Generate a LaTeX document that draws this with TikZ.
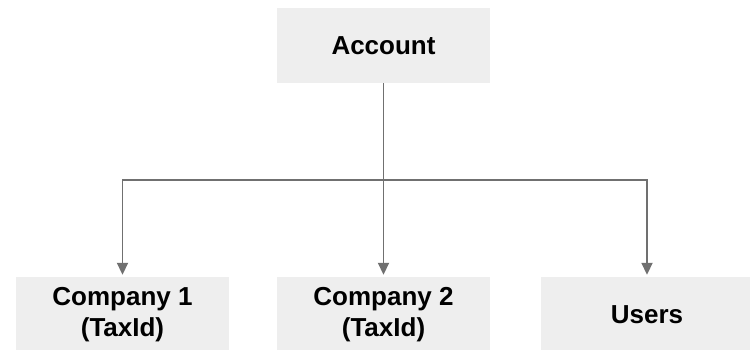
\documentclass[tikz,border=0pt]{standalone}
\usepackage{fontspec}
\setmainfont{Liberation Sans}
\usetikzlibrary{arrows.meta}
\definecolor{boxfill}{RGB}{238,238,238}
\definecolor{linegray}{RGB}{112,112,112}
\begin{document}
\begin{tikzpicture}[x=1pt,y=1pt,
  box/.style={fill=boxfill, draw=none, minimum width=213pt, minimum height=75pt, inner sep=0pt,
    align=center, font=\fontsize{26}{31}\selectfont\bfseries, text=black},
  link/.style={draw=linegray, line width=1.8pt, -{Triangle[length=12pt,width=11pt]}, shorten >=2pt}]
\useasboundingbox (0,0) rectangle (750,-349);
\node[box] (acc) at (383.5,-45.5) {Account};
\node[box] (c1) at (122.5,-314.5) {Company 1\\(TaxId)};
\node[box] (c2) at (383.5,-314.5) {Company 2\\(TaxId)};
\node[box] (us) at (647,-314.5) {Users};
\coordinate (j) at (383.5,-180);
\draw[draw=linegray, line width=1.8pt] (acc.south) -- (j);
\draw[link] (j) -- (c2.north);
\draw[link] (j) -| (c1.north);
\draw[link] (j) -| (us.north);
\end{tikzpicture}
\end{document}
